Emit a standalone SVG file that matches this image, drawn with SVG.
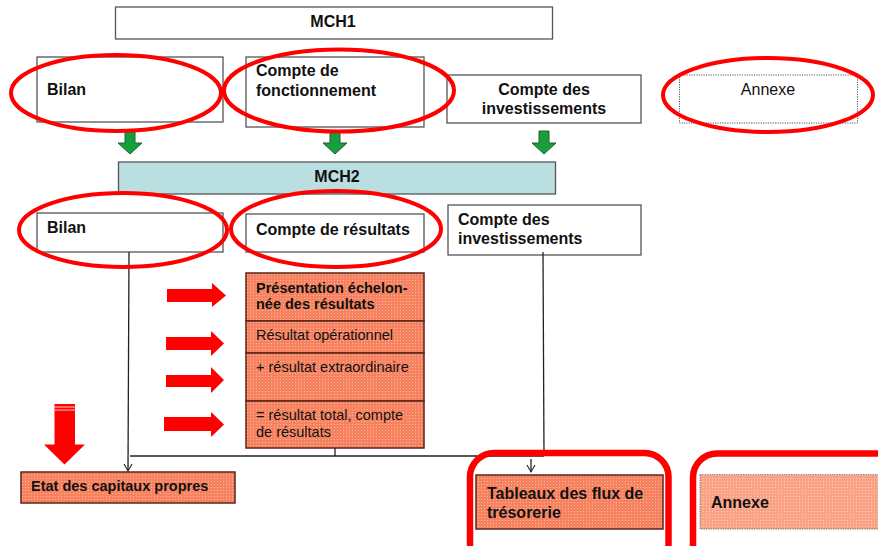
<svg xmlns="http://www.w3.org/2000/svg" width="878" height="546" viewBox="0 0 878 546">
<defs>
<pattern id="salmon" width="3" height="3" patternUnits="userSpaceOnUse">
<rect width="3" height="3" fill="#f7825f"/>
<rect x="1" y="1" width="1" height="1" fill="#fcb49d"/>
</pattern>
<pattern id="salmonLight" width="3" height="3" patternUnits="userSpaceOnUse">
<rect width="3" height="3" fill="#fba286"/>
<rect x="1" y="1" width="1" height="1" fill="#fdcdbd"/>
</pattern>
<marker id="open" markerWidth="10" markerHeight="10" refX="8" refY="5" orient="auto" markerUnits="userSpaceOnUse" viewBox="0 0 10 10">
<path d="M1,1 L8,5 L1,9" fill="none" stroke="#222" stroke-width="1.1"/>
</marker>
</defs>
<style>
text{font-family:"Liberation Sans",Arial,sans-serif;fill:#111}
.b{font-weight:bold;font-size:16px}
.r{font-size:16px}
.sb{font-weight:bold;font-size:14.5px}
.sr{font-size:14.5px}
.box{fill:#fff;stroke:#555;stroke-width:1.3}
.red{fill:url(#salmon);stroke:#5a2418;stroke-width:1.5}
.ell{fill:none;stroke:#ff0000;stroke-width:4}
.frame{fill:none;stroke:#ff0000;stroke-width:6.5}
.garrow{fill:#14a03c;stroke:#2c5a34;stroke-width:1}
.rarrow{fill:#ff0000}
.con{fill:none;stroke:#222;stroke-width:1.3}
</style>
<rect width="878" height="546" fill="#fff"/>

<g id="mch1">
<rect class="box" x="115.5" y="7" width="437" height="32"/>
<text class="b" x="333" y="27" text-anchor="middle" font-size="15.5">MCH1</text>
</g>

<g id="mch1-bilan">
<rect class="box" x="37" y="57" width="186" height="65"/>
<text class="b" x="47" y="95">Bilan</text>
</g>
<g id="mch1-fonct">
<rect class="box" x="246" y="57" width="178" height="70"/>
<text class="b" x="256" y="76">Compte de</text>
<text class="b" x="256" y="95.5">fonctionnement</text>
</g>
<g id="mch1-invest">
<rect class="box" x="447" y="75" width="194" height="48"/>
<text class="b" x="544" y="95" text-anchor="middle">Compte des</text>
<text class="b" x="544" y="114.3" text-anchor="middle">investissements</text>
</g>
<g id="mch1-annexe">
<rect x="679.5" y="75" width="178" height="48" fill="#fff" stroke="#555" stroke-width="1" stroke-dasharray="1.2 1.2"/>
<text class="r" x="768" y="95" text-anchor="middle">Annexe</text>
</g>

<g id="green-arrows">
<polygon class="garrow" points="125,131 135,131 135,143 142,143 130,154 118,143 125,143"/>
<polygon class="garrow" points="330,131 340,131 340,143 347,143 335,154 323,143 330,143"/>
<polygon class="garrow" points="539,131 549,131 549,143 556,143 544,154 532,143 539,143"/>
</g>

<g id="mch2">
<rect x="118.5" y="162" width="437" height="32" fill="#b9dfe1" stroke="#555" stroke-width="1.3"/>
<text class="b" x="337" y="182" text-anchor="middle" font-size="15.5">MCH2</text>
</g>

<g id="mch2-bilan">
<rect class="box" x="37" y="213" width="186" height="39"/>
<text class="b" x="47" y="232.7">Bilan</text>
</g>
<g id="mch2-resultats">
<rect class="box" x="246" y="214" width="178" height="38"/>
<text class="b" x="256" y="235">Compte de résultats</text>
</g>
<g id="mch2-invest">
<rect class="box" x="448" y="205" width="193" height="50"/>
<text class="b" x="458" y="225">Compte des</text>
<text class="b" x="458" y="244">investissements</text>
</g>

<g id="presentation">
<rect class="red" x="246" y="273" width="178" height="48"/>
<text class="sb" x="256" y="292.7">Présentation échelon-</text>
<text class="sb" x="256" y="309.3">née des résultats</text>
</g>
<g id="res-oper">
<rect class="red" x="246" y="321" width="178" height="32"/>
<text class="sr" x="256" y="340">Résultat opérationnel</text>
</g>
<g id="res-extra">
<rect class="red" x="246" y="353" width="178" height="48"/>
<text class="sr" x="256" y="371.7">+ résultat extraordinaire</text>
</g>
<g id="res-total">
<rect class="red" x="246" y="401" width="178" height="47"/>
<text class="sr" x="256" y="420">= résultat total, compte</text>
<text class="sr" x="256" y="436.7">de résultats</text>
</g>

<g id="red-arrows">
<polygon class="rarrow" points="167,289 212,289 212,283 226,295.5 212,307 212,302 167,302"/>
<polygon class="rarrow" points="166,337 211,337 211,331 224,343.5 211,356 211,350 166,350"/>
<polygon class="rarrow" points="166,375 211,375 211,367 224,380 211,393 211,387 166,387"/>
<polygon class="rarrow" points="164,417 211,417 211,412 224,424.5 211,437 211,431 164,431"/>
<polygon class="rarrow" points="54.5,404 75,404 75,444.5 85,444.5 64.5,464.5 44,444.5 54.5,444.5"/>
<line x1="54.5" y1="407" x2="75" y2="407" stroke="#fff" stroke-width="0.8"/>
<line x1="54.5" y1="410" x2="75" y2="410" stroke="#fff" stroke-width="0.8"/>
</g>

<g id="connectors">
<path class="con" d="M129,252 L128,471" stroke="#777" marker-end="url(#open)"/>
<path class="con" d="M130,456 L544,456 M335,448 L335,456"/>
<path class="con" d="M543,252 L544,456" stroke="#666"/>
<path class="con" d="M531,459 L531,472" marker-end="url(#open)"/>
</g>

<g id="etat">
<rect class="red" x="21" y="472" width="214" height="31"/>
<text class="sb" x="31" y="490.7">Etat des capitaux propres</text>
</g>
<g id="tableaux">
<rect class="red" x="476" y="475" width="187" height="54"/>
<text class="b" x="487" y="499">Tableaux des flux de</text>
<text class="b" x="487" y="518.3">trésorerie</text>
</g>
<g id="annexe2">
<rect x="700" y="474.7" width="190" height="54.3" fill="url(#salmonLight)" stroke="#666" stroke-width="1" stroke-dasharray="1.2 1.2"/>
<text class="b" x="711" y="508.3" font-size="15.5">Annexe</text>
</g>

<g id="highlights">
<ellipse class="ell" cx="116" cy="93" rx="105" ry="38"/>
<ellipse class="ell" cx="339" cy="90.5" rx="115" ry="41"/>
<ellipse class="ell" cx="768" cy="95" rx="105" ry="37"/>
<ellipse class="ell" cx="123" cy="230" rx="104" ry="37"/>
<ellipse class="ell" cx="336" cy="229" rx="105" ry="38"/>
<rect class="frame" x="470" y="453" width="198.5" height="115" rx="24"/>
<rect class="frame" x="693" y="453.5" width="220" height="115" rx="24"/>
</g>
</svg>
